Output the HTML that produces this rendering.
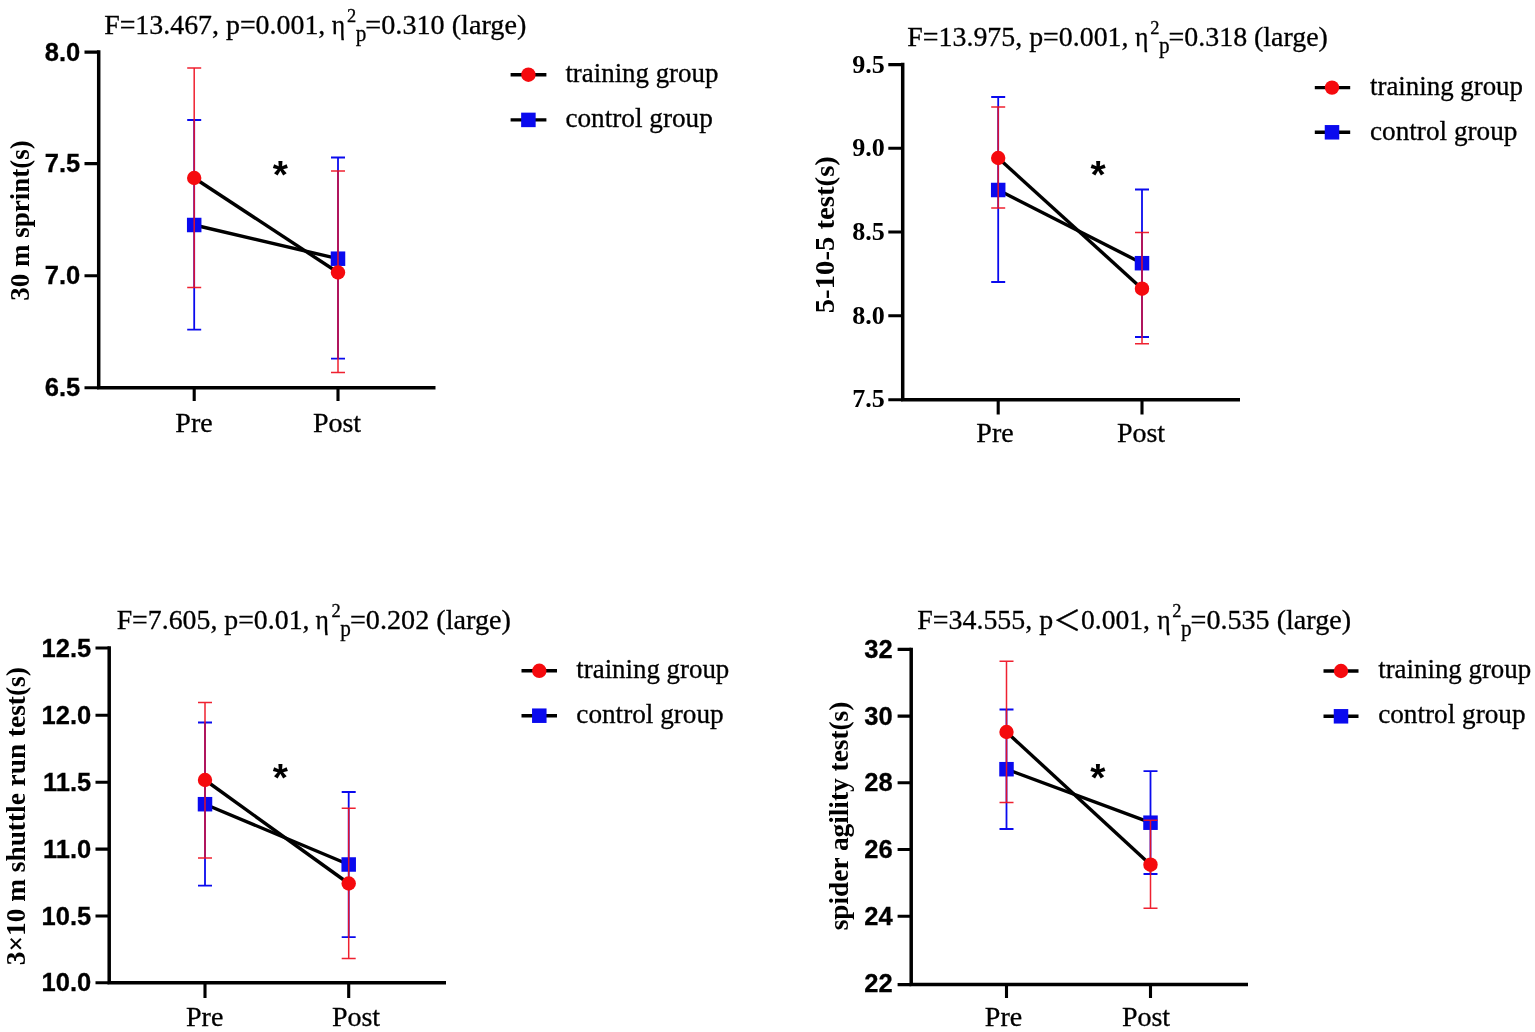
<!DOCTYPE html>
<html lang="en"><head><meta charset="utf-8">
<title>Pre/Post comparison of training and control groups</title>
<style>
html,body{margin:0;padding:0;background:#fff;}
body{width:1535px;height:1032px;overflow:hidden;}
svg{display:block;}
.t{font-family:"Liberation Serif", "DejaVu Serif", serif;fill:#000;stroke:#000;stroke-width:.3px;}
.cj{font-family:"Liberation Serif", "Noto Sans CJK SC", serif;}
.tb{font-family:"Liberation Serif", "DejaVu Serif", serif;font-weight:bold;fill:#000;}
.sb{font-family:"Liberation Sans", "DejaVu Sans", sans-serif;font-weight:bold;fill:#000;stroke:#000;stroke-width:.3px;}
.st{font-family:"Liberation Sans", "DejaVu Sans", sans-serif;font-weight:bold;fill:#000;}
.ax{stroke:#000;stroke-width:3.5;fill:none;stroke-linecap:butt;}
.tk{stroke:#000;stroke-width:3.1;fill:none;}
.ln{stroke:#000;stroke-width:3.4;fill:none;}
.er{stroke:#ee1020;stroke-width:1.5;fill:none;opacity:.93;}
.eb{stroke:#0a0aee;stroke-width:1.8;fill:none;}
.mr{fill:#f50a0e;}
.mb{fill:#0a0aee;}
</style></head><body>
<svg width="1535" height="1032" viewBox="0 0 1535 1032">
<rect width="1535" height="1032" fill="#fff"/>
<g id="panel1">
<path class="ax" d="M98.7 50.35 V387.7 H435.5"/>
<path class="tk" d="M84.5 52.1 H98.7 M84.5 163.6 H98.7 M84.5 275.8 H98.7 M84.5 387.7 H98.7 M194.2 387.7 V401 M338 387.7 V401"/>
<text class="sb" x="80.2" y="60.73" font-size="25.5" text-anchor="end">8.0</text>
<text class="sb" x="80.2" y="172.23" font-size="25.5" text-anchor="end">7.5</text>
<text class="sb" x="80.2" y="284.43" font-size="25.5" text-anchor="end">7.0</text>
<text class="sb" x="80.2" y="395.93" font-size="25.5" text-anchor="end">6.5</text>
<text class="t" x="194" y="432" font-size="28" text-anchor="middle">Pre</text>
<text class="t" x="337" y="432" font-size="28" text-anchor="middle">Post</text>
<text class="tb" transform="translate(28.5 220.5) rotate(-90)" font-size="26.5" text-anchor="middle" textLength="160.5" lengthAdjust="spacingAndGlyphs">30 m sprint(s)</text>
<text class="t" font-size="28"><tspan x="104.17" y="34" textLength="221.13" lengthAdjust="spacingAndGlyphs">F=13.467, p=0.001,</tspan><tspan> </tspan><tspan x="331.8" y="34" textLength="13.4" lengthAdjust="spacingAndGlyphs">η</tspan><tspan x="347" y="21.8" font-size="18.4">2</tspan><tspan x="355.7" y="40.6" font-size="24" textLength="10.6" lengthAdjust="spacingAndGlyphs">p</tspan><tspan x="365.36" y="34" textLength="160.99" lengthAdjust="spacingAndGlyphs">=0.310 (large)</tspan></text>
<path class="eb" d="M194.2 120 V329.7 M187.2 120 H201.2 M187.2 329.7 H201.2 M338 157.5 V358.7 M331 157.5 H345 M331 358.7 H345"/>
<path class="ln" d="M194.2 225 L338 258.7"/>
<rect class="mb" x="186.95" y="217.75" width="14.5" height="14.5"/>
<rect class="mb" x="330.75" y="251.45" width="14.5" height="14.5"/>
<path class="er" d="M194.2 68 V287.5 M187.2 68 H201.2 M187.2 287.5 H201.2 M338 171 V372.5 M331 171 H345 M331 372.5 H345"/>
<path class="ln" d="M194.2 178 L338 272.5"/>
<circle class="mr" cx="194.2" cy="178" r="7.2"/>
<circle class="mr" cx="338" cy="272.5" r="7.2"/>
<text class="st" x="280.3" y="187.99" font-size="39" text-anchor="middle">*</text>
<path class="ln" d="M510.6 74.7 H546.4 M510.6 119.9 H546.4"/>
<circle class="mr" cx="528.4" cy="74.7" r="7.2"/>
<rect class="mb" x="521.15" y="112.65" width="14.5" height="14.5"/>
<text class="t" x="565.4" y="82" font-size="27" textLength="153" lengthAdjust="spacingAndGlyphs">training group</text>
<text class="t" x="565.4" y="127.3" font-size="27" textLength="147.4" lengthAdjust="spacingAndGlyphs">control group</text>
</g>
<g id="panel2">
<path class="ax" d="M902.7 62.85 V399.8 H1240"/>
<path class="tk" d="M888.3 64.6 H902.7 M888.3 148.3 H902.7 M888.3 232 H902.7 M888.3 315.7 H902.7 M888.3 399.8 H902.7 M998.2 399.8 V414.5 M1142 399.8 V414.5"/>
<text class="tb" x="884.9" y="72.55" font-size="25" text-anchor="end" textLength="32.6" lengthAdjust="spacingAndGlyphs">9.5</text>
<text class="tb" x="884.9" y="156.25" font-size="25" text-anchor="end" textLength="32.6" lengthAdjust="spacingAndGlyphs">9.0</text>
<text class="tb" x="884.9" y="239.95" font-size="25" text-anchor="end" textLength="32.6" lengthAdjust="spacingAndGlyphs">8.5</text>
<text class="tb" x="884.9" y="323.65" font-size="25" text-anchor="end" textLength="32.6" lengthAdjust="spacingAndGlyphs">8.0</text>
<text class="tb" x="884.9" y="407.35" font-size="25" text-anchor="end" textLength="32.6" lengthAdjust="spacingAndGlyphs">7.5</text>
<text class="t" x="995" y="442" font-size="28" text-anchor="middle">Pre</text>
<text class="t" x="1141" y="442" font-size="28" text-anchor="middle">Post</text>
<text class="tb" transform="translate(833.7 234.7) rotate(-90)" font-size="26.5" text-anchor="middle" textLength="157.2" lengthAdjust="spacingAndGlyphs">5-10-5 test(s)</text>
<text class="t" font-size="28"><tspan x="907.37" y="45.9" textLength="221.13" lengthAdjust="spacingAndGlyphs">F=13.975, p=0.001,</tspan><tspan> </tspan><tspan x="1135" y="45.9" textLength="13.4" lengthAdjust="spacingAndGlyphs">η</tspan><tspan x="1150.2" y="33.7" font-size="18.4">2</tspan><tspan x="1158.9" y="52.5" font-size="24" textLength="10.6" lengthAdjust="spacingAndGlyphs">p</tspan><tspan x="1168.57" y="45.9" textLength="159.36" lengthAdjust="spacingAndGlyphs">=0.318 (large)</tspan></text>
<path class="eb" d="M998.2 97 V282 M991.2 97 H1005.2 M991.2 282 H1005.2 M1142 189.5 V337 M1135 189.5 H1149 M1135 337 H1149"/>
<path class="ln" d="M998.2 190 L1142 263.2"/>
<rect class="mb" x="990.95" y="182.75" width="14.5" height="14.5"/>
<rect class="mb" x="1134.75" y="255.95" width="14.5" height="14.5"/>
<path class="er" d="M998.2 107 V208 M991.2 107 H1005.2 M991.2 208 H1005.2 M1142 232.5 V343.7 M1135 232.5 H1149 M1135 343.7 H1149"/>
<path class="ln" d="M998.2 158 L1142 288.7"/>
<circle class="mr" cx="998.2" cy="158" r="7.2"/>
<circle class="mr" cx="1142" cy="288.7" r="7.2"/>
<text class="st" x="1098" y="187.89" font-size="39" text-anchor="middle">*</text>
<path class="ln" d="M1314.8 87.6 H1350.2 M1314.8 132.3 H1350.2"/>
<circle class="mr" cx="1332" cy="87.6" r="7.2"/>
<rect class="mb" x="1324.75" y="125.05" width="14.5" height="14.5"/>
<text class="t" x="1370" y="95" font-size="27" textLength="153" lengthAdjust="spacingAndGlyphs">training group</text>
<text class="t" x="1370" y="139.6" font-size="27" textLength="147.4" lengthAdjust="spacingAndGlyphs">control group</text>
</g>
<g id="panel3">
<path class="ax" d="M109.2 646.25 V982.8 H446"/>
<path class="tk" d="M95.5 648 H109.2 M95.5 715.3 H109.2 M95.5 782.2 H109.2 M95.5 849.1 H109.2 M95.5 916 H109.2 M95.5 982.8 H109.2 M205 982.8 V998 M348.7 982.8 V998"/>
<text class="sb" x="91.2" y="656.63" font-size="25.5" text-anchor="end">12.5</text>
<text class="sb" x="91.2" y="723.93" font-size="25.5" text-anchor="end">12.0</text>
<text class="sb" x="91.2" y="790.83" font-size="25.5" text-anchor="end">11.5</text>
<text class="sb" x="91.2" y="857.73" font-size="25.5" text-anchor="end">11.0</text>
<text class="sb" x="91.2" y="924.63" font-size="25.5" text-anchor="end">10.5</text>
<text class="sb" x="91.2" y="991.23" font-size="25.5" text-anchor="end">10.0</text>
<text class="t" x="204.7" y="1025.9" font-size="28" text-anchor="middle">Pre</text>
<text class="t" x="356" y="1025.9" font-size="28" text-anchor="middle">Post</text>
<text class="tb" transform="translate(24.9 816.2) rotate(-90)" font-size="26.5" text-anchor="middle" textLength="298" lengthAdjust="spacingAndGlyphs">3×10 m shuttle run test(s)</text>
<text class="t" font-size="28"><tspan x="116.67" y="629.1" textLength="192.83" lengthAdjust="spacingAndGlyphs">F=7.605, p=0.01,</tspan><tspan> </tspan><tspan x="315.6" y="629.1" textLength="13.4" lengthAdjust="spacingAndGlyphs">η</tspan><tspan x="331.6" y="616.9" font-size="18.4">2</tspan><tspan x="340.3" y="635.7" font-size="24" textLength="10.6" lengthAdjust="spacingAndGlyphs">p</tspan><tspan x="349.96" y="629.1" textLength="160.99" lengthAdjust="spacingAndGlyphs">=0.202 (large)</tspan></text>
<path class="eb" d="M205 722.5 V885.7 M198 722.5 H212 M198 885.7 H212 M348.7 792 V937.2 M341.7 792 H355.7 M341.7 937.2 H355.7"/>
<path class="ln" d="M205 804.2 L348.7 864.5"/>
<rect class="mb" x="197.75" y="796.95" width="14.5" height="14.5"/>
<rect class="mb" x="341.45" y="857.25" width="14.5" height="14.5"/>
<path class="er" d="M205 702.5 V858 M198 702.5 H212 M198 858 H212 M348.7 808.2 V958.6 M341.7 808.2 H355.7 M341.7 958.6 H355.7"/>
<path class="ln" d="M205 780 L348.7 883.5"/>
<circle class="mr" cx="205" cy="780" r="7.2"/>
<circle class="mr" cx="348.7" cy="883.5" r="7.2"/>
<text class="st" x="280.3" y="791.29" font-size="39" text-anchor="middle">*</text>
<path class="ln" d="M521.5 670.8 H557 M521.5 715.7 H557"/>
<circle class="mr" cx="539.3" cy="670.8" r="7.2"/>
<rect class="mb" x="532.05" y="708.45" width="14.5" height="14.5"/>
<text class="t" x="576.3" y="677.9" font-size="27" textLength="153" lengthAdjust="spacingAndGlyphs">training group</text>
<text class="t" x="576.3" y="722.8" font-size="27" textLength="147.4" lengthAdjust="spacingAndGlyphs">control group</text>
</g>
<g id="panel4">
<path class="ax" d="M911.2 647.65 V984.6 H1248"/>
<path class="tk" d="M897.6 649.4 H911.2 M897.6 716.1 H911.2 M897.6 782.8 H911.2 M897.6 849.5 H911.2 M897.6 916.2 H911.2 M897.6 984.6 H911.2 M1006.5 984.6 V998 M1150.5 984.6 V998"/>
<text class="sb" x="892.7" y="658.03" font-size="25.5" text-anchor="end">32</text>
<text class="sb" x="892.7" y="724.73" font-size="25.5" text-anchor="end">30</text>
<text class="sb" x="892.7" y="791.43" font-size="25.5" text-anchor="end">28</text>
<text class="sb" x="892.7" y="858.13" font-size="25.5" text-anchor="end">26</text>
<text class="sb" x="892.7" y="924.83" font-size="25.5" text-anchor="end">24</text>
<text class="sb" x="892.7" y="992.03" font-size="25.5" text-anchor="end">22</text>
<text class="t" x="1003.5" y="1025.9" font-size="28" text-anchor="middle">Pre</text>
<text class="t" x="1146" y="1025.9" font-size="28" text-anchor="middle">Post</text>
<text class="tb" transform="translate(848.4 816) rotate(-90)" font-size="26.5" text-anchor="middle" textLength="228.6" lengthAdjust="spacingAndGlyphs">spider agility test(s)</text>
<text class="t" font-size="28"><tspan x="917.37" y="629.1" textLength="135.78" lengthAdjust="spacingAndGlyphs">F=34.555, p</tspan><tspan class="cj" x="1053.3" y="631.3">＜</tspan><tspan x="1080.98" y="629.1" textLength="69.06" lengthAdjust="spacingAndGlyphs">0.001,</tspan><tspan> </tspan><tspan x="1157.3" y="629.1" textLength="13.4" lengthAdjust="spacingAndGlyphs">η</tspan><tspan x="1172.2" y="616.9" font-size="18.4">2</tspan><tspan x="1180.9" y="635.7" font-size="24" textLength="10.6" lengthAdjust="spacingAndGlyphs">p</tspan><tspan x="1190.56" y="629.1" textLength="160.48" lengthAdjust="spacingAndGlyphs">=0.535 (large)</tspan></text>
<path class="eb" d="M1006.5 709.5 V829 M999.5 709.5 H1013.5 M999.5 829 H1013.5 M1150.5 771.2 V874 M1143.5 771.2 H1157.5 M1143.5 874 H1157.5"/>
<path class="ln" d="M1006.5 769.2 L1150.5 822.7"/>
<rect class="mb" x="999.25" y="761.95" width="14.5" height="14.5"/>
<rect class="mb" x="1143.25" y="815.45" width="14.5" height="14.5"/>
<path class="er" d="M1006.5 661.2 V802.5 M999.5 661.2 H1013.5 M999.5 802.5 H1013.5 M1150.5 820.2 V908.2 M1143.5 820.2 H1157.5 M1143.5 908.2 H1157.5"/>
<path class="ln" d="M1006.5 732 L1150.5 864.7"/>
<circle class="mr" cx="1006.5" cy="732" r="7.2"/>
<circle class="mr" cx="1150.5" cy="864.7" r="7.2"/>
<text class="st" x="1097.9" y="791.29" font-size="39" text-anchor="middle">*</text>
<path class="ln" d="M1323.5 671 H1358.5 M1323.5 716.3 H1358.5"/>
<circle class="mr" cx="1341" cy="671" r="7.2"/>
<rect class="mb" x="1333.75" y="709.05" width="14.5" height="14.5"/>
<text class="t" x="1378.2" y="677.9" font-size="27" textLength="153" lengthAdjust="spacingAndGlyphs">training group</text>
<text class="t" x="1378.2" y="722.8" font-size="27" textLength="147.4" lengthAdjust="spacingAndGlyphs">control group</text>
</g>
</svg>
</body></html>
